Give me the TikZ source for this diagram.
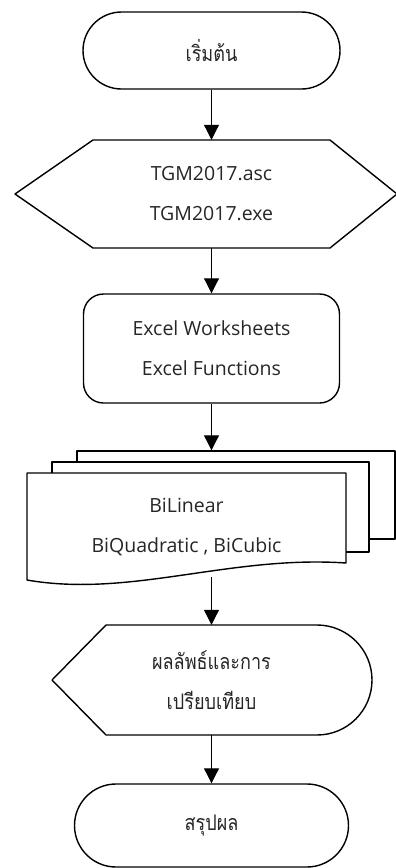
\documentclass[tikz,border=0pt]{standalone}
\usepackage{fontspec}
\setmainfont{Open Sans}
\newfontfamily\thai[Script=Thai,FakeStretch=0.84]{Loma}
\usetikzlibrary{shapes.misc,arrows.meta}
\begin{document}
\begin{tikzpicture}[x=1pt,y=-1pt,
  outline/.style={draw, line width=1.4pt, line join=round},
  sheet/.style={outline, fill=white},
  txt/.style={inner sep=0pt, align=center, text=black!85,
    font=\fontsize{19.5}{40}\selectfont},
  thaitxt/.style={inner sep=0pt, align=center, text=black!85,
    font=\thai\fontsize{21.5}{40}\selectfont},
  term/.style={outline, rounded rectangle, inner sep=0pt},
  flow/.style={line width=1pt, -{Triangle[length=15pt,width=15pt]}}
]
\useasboundingbox (0,0) rectangle (396,868);
% start terminal
\node[term, thaitxt, minimum width=257pt, minimum height=77pt] (start) at (211.5,50.5) {เริ่มต้น};
% preparation hexagon
\draw[outline] (93,140) -- (15,194) -- (93,248) -- (330,248) -- (397,194) -- (330,140) -- cycle;
\node[txt, minimum width=237pt, minimum height=108pt] (prep) at (211.5,194) {TGM2017.asc\\TGM2017.exe};
% process
\node[outline, txt, rounded corners=20pt, minimum width=256pt, minimum height=109pt] (proc) at (211.5,348.5) {Excel Worksheets\\Excel Functions};
% multi-document
\node[sheet, minimum width=318pt, minimum height=88pt, inner sep=0pt] (back) at (236,495) {};
\node[sheet, minimum width=317pt, minimum height=90pt, inner sep=0pt] (mid) at (210.5,507) {};
\draw[sheet] (27,473) -- (346,473) -- (346,563) .. controls (230,555) and (130,598) .. (27,580) -- cycle;
\node[txt, minimum width=319pt, minimum height=107pt] (front) at (186.5,527) {BiLinear\\BiQuadratic , BiCubic};
\coordinate (wave) at (211.5,577);
% display
\draw[outline] (106,625) -- (317,625) arc[start angle=-90, end angle=90, radius=55] -- (106,735) -- (52,680) -- cycle;
\node[thaitxt, minimum width=212pt, minimum height=110pt] (disp) at (211.5,680) {ผลลัพธ์และการ\\เปรียบเทียบ};
% end terminal
\node[term, thaitxt, minimum width=274pt, minimum height=83pt] (endt) at (211.5,825.5) {สรุปผล};
% connectors
\draw[flow] (start.south) -- (prep.north);
\draw[flow] (prep.south) -- (proc.north);
\draw[flow] (proc.south) -- (proc.south |- back.north);
\draw[flow] (wave) -- (disp.north);
\draw[flow] (disp.south) -- (endt.north);
\end{tikzpicture}
\end{document}
